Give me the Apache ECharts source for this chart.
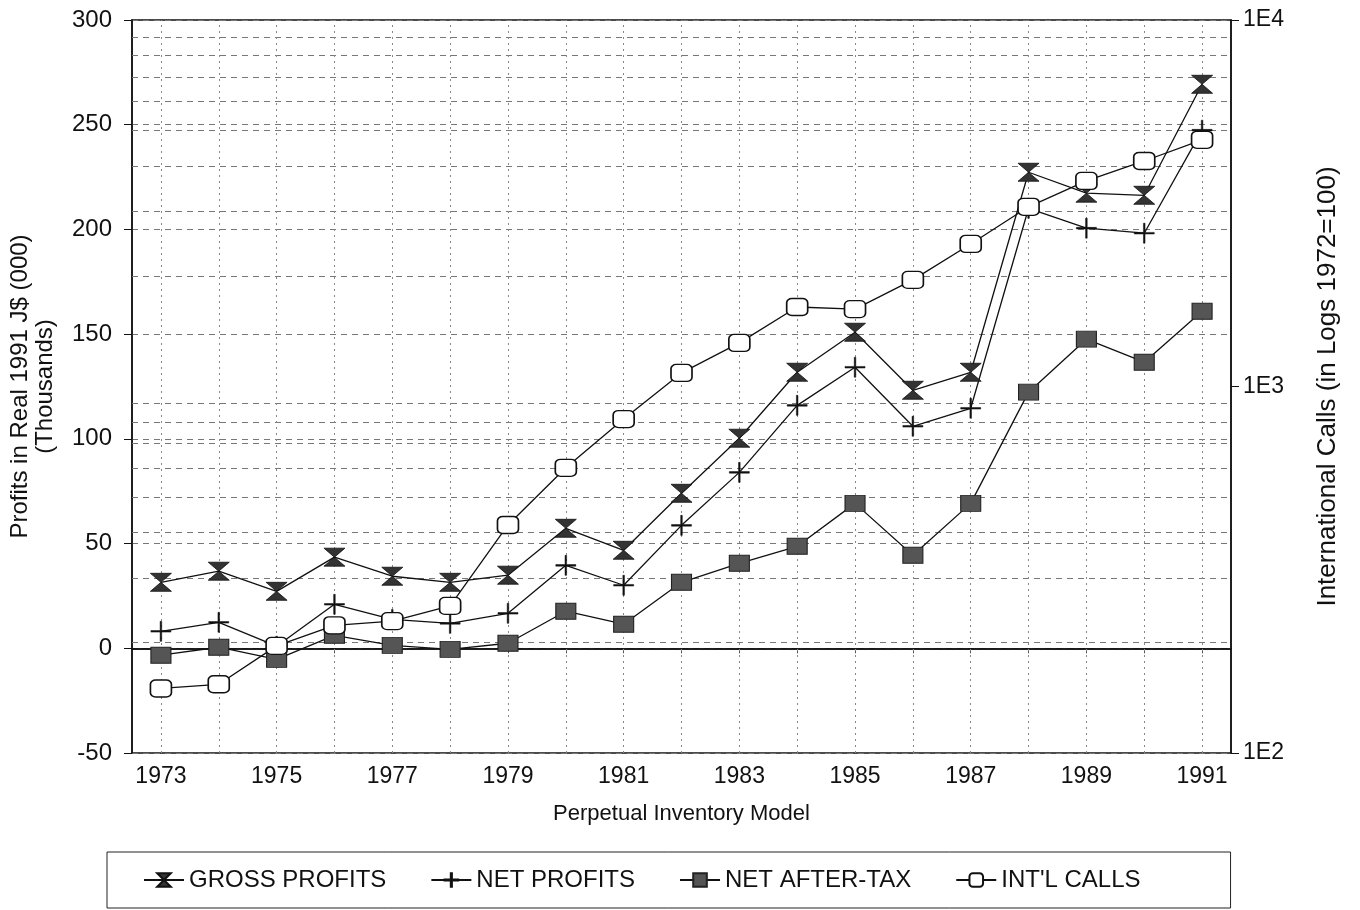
<!DOCTYPE html>
<html>
<head>
<meta charset="utf-8">
<script src="https://cdn.jsdelivr.net/npm/echarts@6/dist/echarts.min.js"></script>
<style>
html,body{margin:0;padding:0;background:#fff;}
#chart{width:1360px;height:910px;}
</style>
</head>
<body>
<div id="chart"></div>
<script>
const years = ['1973','1974','1975','1976','1977','1978','1979','1980','1981','1982','1983','1984','1985','1986','1987','1988','1989','1990','1991'];
const grossProfits = [31.5, 36.8, 27.2, 43.5, 34.4, 31.5, 34.9, 57.3, 46.8, 74.0, 100.3, 131.8, 150.9, 123.2, 131.8, 227.3, 217.3, 216.3, 269.3];
const netProfits   = [8.1, 12.4, 1.0, 21.0, 13.8, 11.9, 16.7, 39.6, 30.1, 58.7, 84.0, 116.0, 134.2, 106.0, 114.6, 210.1, 200.6, 198.2, 247.4];
const netAfterTax  = [-3.3, 0.5, -5.3, 6.2, 1.4, -0.5, 2.4, 17.7, 11.5, 31.5, 40.6, 48.7, 69.2, 44.4, 69.2, 122.3, 147.6, 136.6, 160.9];
const intlCalls    = [150, 154, 196, 223, 229, 252, 419, 600, 815, 1089, 1315, 1648, 1626, 1954, 2449, 3092, 3639, 4124, 4711];
const logGridValues = [200, 300, 400, 500, 600, 700, 800, 900, 2000, 3000, 4000, 5000, 6000, 7000, 8000, 9000];

const FONT = '"Liberation Sans", Arial, sans-serif';
const chart = echarts.init(document.getElementById('chart'));

const hourglass = 'path://M0,0 L10,0 L0,10 L10,10 Z';
const plus = 'path://M4.6,0 H5.4 V4.6 H10 V5.4 H5.4 V10 H4.6 V5.4 H0 V4.6 H4.6 Z';

const gridLineStyle = {color: '#777', width: 1, type: [6, 5]};

const option = {
  backgroundColor: '#fff',
  animation: false,
  textStyle: {fontFamily: FONT, color: '#111'},
  grid: {left: 132, right: 129, top: 20, bottom: 157, show: true, borderColor: '#111', borderWidth: 1.5, backgroundColor: 'transparent'},
  legend: {
    left: 107, bottom: 2,
    padding: [16, 90, 16, 36],
    itemGap: 44,
    itemWidth: 40, itemHeight: 17,
    borderColor: '#222', borderWidth: 1,
    textStyle: {fontFamily: FONT, fontSize: 24, color: '#111'},
    data: ['GROSS PROFITS', 'NET PROFITS', 'NET AFTER-TAX', "INT'L CALLS"]
  },
  xAxis: {
    type: 'category',
    data: years,
    boundaryGap: true,
    name: 'Perpetual Inventory Model',
    nameLocation: 'middle',
    nameGap: 50,
    nameTextStyle: {fontFamily: FONT, fontSize: 22, color: '#111'},
    axisLine: {lineStyle: {color: '#111', width: 1.5}},
    axisTick: {show: true, alignWithLabel: true, interval: 0, length: 5, lineStyle: {color: '#555'}},
    axisLabel: {interval: 1, fontFamily: FONT, fontSize: 23, color: '#111', margin: 12},
    splitLine: {show: false}
  },
  yAxis: [
    {
      type: 'value',
      min: -50, max: 300, interval: 50,
      name: 'Profits in Real 1991 J$ (000)\n(Thousands)',
      nameLocation: 'middle',
      nameGap: 74,
      nameRotate: 90,
      nameTextStyle: {fontFamily: FONT, fontSize: 24, color: '#111', lineHeight: 25},
      axisLine: {show: true, lineStyle: {color: '#111', width: 1.5}},
      axisTick: {show: true, inside: false, length: 8, lineStyle: {color: '#111'}},
      axisLabel: {fontFamily: FONT, fontSize: 24, color: '#111', margin: 20},
      splitLine: {show: true, lineStyle: gridLineStyle}
    },
    {
      type: 'log',
      logBase: 10,
      min: 100, max: 10000,
      position: 'right',
      name: 'International Calls (in Logs 1972=100)',
      nameLocation: 'middle',
      nameGap: 84,
      nameRotate: 90,
      nameTextStyle: {fontFamily: FONT, fontSize: 26, color: '#111'},
      axisLine: {show: true, lineStyle: {color: '#111', width: 1.5}},
      axisTick: {show: true, inside: false, length: 8, lineStyle: {color: '#111'}},
      axisLabel: {fontFamily: FONT, fontSize: 23, color: '#111', margin: 12,
        formatter: v => '1E' + Math.round(Math.log10(v))},
      splitLine: {show: false}
    }
  ],
  series: [
    {
      name: 'GROSS PROFITS', type: 'line', yAxisIndex: 0, data: grossProfits,
      symbol: hourglass, symbolSize: [21, 18], z: 4,
      lineStyle: {color: '#111', width: 1.3},
      itemStyle: {color: '#333', borderColor: '#111', borderWidth: 0.8},
      markLine: {
        silent: true, symbol: ['none', 'none'], label: {show: false}, z: 1,
        data: [{yAxis: 0, lineStyle: {color: '#111', width: 1.5, type: 'solid'}}]
      }
    },
    {
      name: 'NET PROFITS', type: 'line', yAxisIndex: 0, data: netProfits,
      symbol: plus, symbolSize: [20, 20], z: 4,
      lineStyle: {color: '#111', width: 1.3},
      itemStyle: {color: '#111', borderColor: '#111', borderWidth: 0.5}
    },
    {
      name: 'NET AFTER-TAX', type: 'line', yAxisIndex: 0, data: netAfterTax,
      symbol: 'rect', symbolSize: [20, 16], z: 4,
      lineStyle: {color: '#111', width: 1.3},
      itemStyle: {color: '#555', borderColor: '#222', borderWidth: 1}
    },
    {
      name: "INT'L CALLS", type: 'line', yAxisIndex: 1, data: intlCalls,
      symbol: 'roundRect', symbolSize: [21, 17], z: 4,
      lineStyle: {color: '#111', width: 1.3},
      itemStyle: {color: '#fff', borderColor: '#111', borderWidth: 1.5},
      markLine: {
        silent: true, symbol: ['none', 'none'], label: {show: false}, z: 1,
        lineStyle: gridLineStyle,
        data: logGridValues.map(v => ({yAxis: v}))
          .concat(years.map(y => ({xAxis: y, lineStyle: {color: '#888', width: 1, type: [2, 4]}})))
      }
    }
  ]
};
chart.setOption(option);
</script>
</body>
</html>
